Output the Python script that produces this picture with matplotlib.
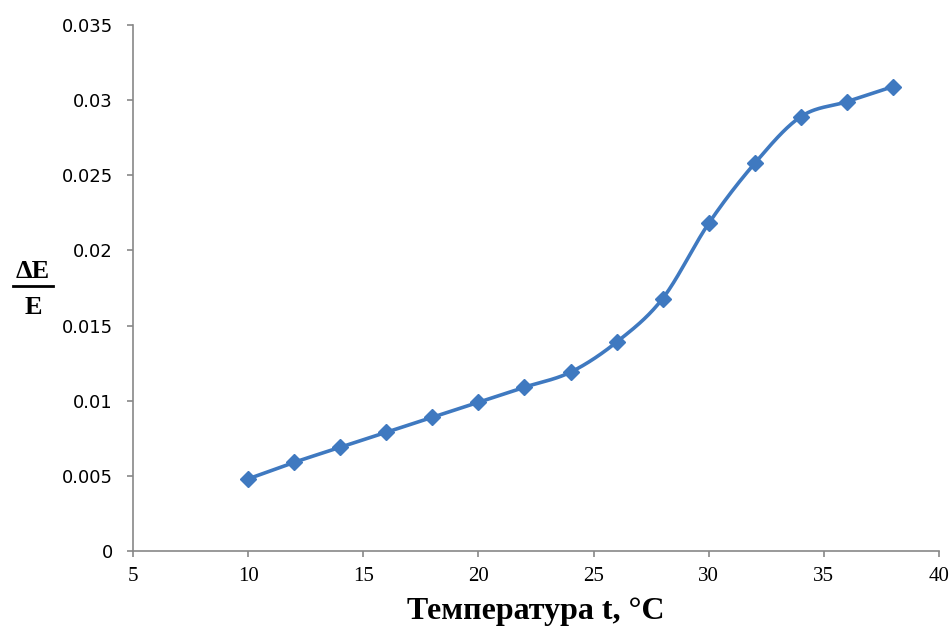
import matplotlib
matplotlib.use('Agg')

import numpy as np
import matplotlib.pyplot as plt
from matplotlib.lines import Line2D

# data
temps = [10, 12, 14, 16, 18, 20, 22, 24, 26, 28, 30, 32, 34, 36, 38]
rel_change = [0.0048, 0.0059, 0.0069, 0.0079, 0.0089, 0.0099, 0.0109, 0.0119,
              0.0139, 0.0168, 0.0218, 0.0258, 0.0289, 0.0299, 0.0309]
xticks = [5, 10, 15, 20, 25, 30, 35, 40]
yticks = [0, 0.005, 0.01, 0.015, 0.02, 0.025, 0.03, 0.035]
ytick_labels = ["0", "0.005", "0.01", "0.015", "0.02", "0.025", "0.03", "0.035"]

BLUE = "#3f79c0"
GREY = "#878787"


def smooth(xs, ys, n=30):
    """Catmull-Rom curve through the points (like Excel's smoothed line)"""
    xs = np.asarray(xs, float)
    ys = np.asarray(ys, float)
    px = np.concatenate([[2 * xs[0] - xs[1]], xs, [2 * xs[-1] - xs[-2]]])
    py = np.concatenate([[2 * ys[0] - ys[1]], ys, [2 * ys[-1] - ys[-2]]])
    ox, oy = [], []
    t = np.linspace(0, 1, n, endpoint=False)
    for i in range(1, len(px) - 2):
        for p, out in ((px, ox), (py, oy)):
            p0, p1, p2, p3 = p[i - 1], p[i], p[i + 1], p[i + 2]
            out.extend(0.5 * (2 * p1 + (-p0 + p2) * t
                              + (2 * p0 - 5 * p1 + 4 * p2 - p3) * t ** 2
                              + (-p0 + 3 * p1 - 3 * p2 + p3) * t ** 3))
    ox.append(xs[-1])
    oy.append(ys[-1])
    return ox, oy


fig = plt.figure(figsize=(9.51, 6.28), dpi=100)
ax = fig.add_axes([133 / 951, 77 / 628, 806 / 951, 526 / 628])

sx, sy = smooth(temps, rel_change)
ax.plot(sx, sy, color=BLUE, lw=2.6, solid_capstyle='round')
ax.plot(temps, rel_change, ls='none', marker='D', ms=8, color=BLUE)

ax.set_xlim(5, 40)
ax.set_ylim(0, 0.035)
ax.set_xticks(xticks)
ax.set_yticks(yticks)
ax.set_yticklabels(ytick_labels)

for s in ["top", "right"]:
    ax.spines[s].set_visible(False)
for s in ["left", "bottom"]:
    ax.spines[s].set_color(GREY)
    ax.spines[s].set_linewidth(1.2)

ax.tick_params(axis='both', direction='out', length=4.5, width=1.2, color=GREY)
ax.tick_params(axis='y', pad=10, labelsize=13)
ax.tick_params(axis='x', pad=7, labelsize=15)
for lbl in ax.get_yticklabels():
    lbl.set_family("DejaVu Sans")
for lbl in ax.get_xticklabels():
    lbl.set_family("Liberation Serif")

# axis titles
fig.text(536 / 951, 1 - 611 / 628, "Температура t, °C", ha='center', va='center',
         family="Liberation Serif", fontweight='bold', fontsize=23)
fig.text(33 / 951, 1 - 272 / 628, "ΔE", ha='center', va='center',
         family="Liberation Serif", fontweight='bold', fontsize=19)
fig.text(33 / 951, 1 - 308 / 628, "E", ha='center', va='center',
         family="Liberation Serif", fontweight='bold', fontsize=19)
fig.add_artist(Line2D([13 / 951, 53 / 951], [1 - 286 / 628, 1 - 286 / 628],
                      transform=fig.transFigure, color='black', lw=2))

fig.savefig("out.png", dpi=100)
